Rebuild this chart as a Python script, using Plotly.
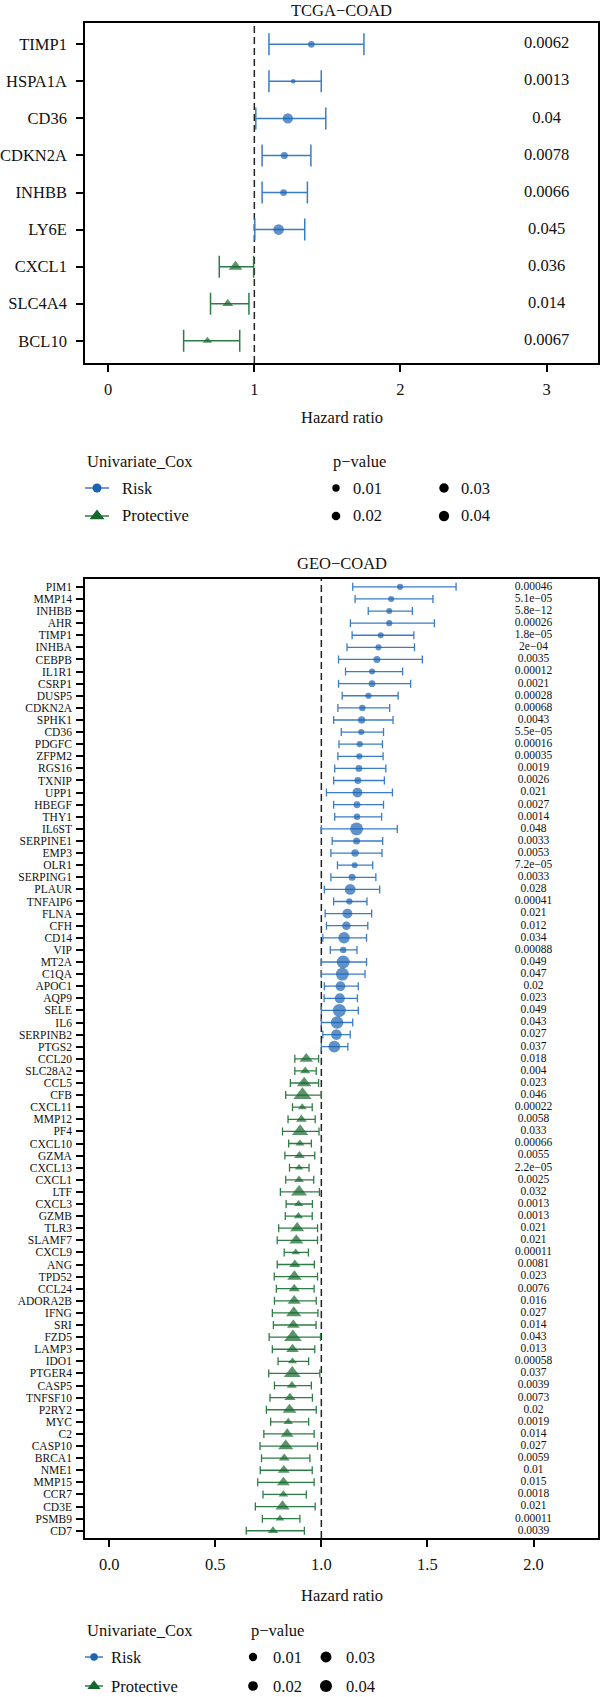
import plotly.graph_objects as go
import numpy as np

W, H = 600, 1697
FONT = "Liberation Serif"
BLUE = "#1C63B0"
BLUE_BAR = "#3A7DC6"
GREEN = "#15672C"
GREEN_BAR = "#2E7D46"
INK = "#111111"

# ---------------- TCGA-COAD ----------------
tcga_genes = ["TIMP1", "HSPA1A", "CD36", "CDKN2A", "INHBB", "LY6E", "CXCL1", "SLC4A4", "BCL10"]
tcga_hr = [1.39, 1.266, 1.229, 1.205, 1.20, 1.166, 0.871, 0.818, 0.679]
tcga_low = [1.10, 1.10, 1.01, 1.053, 1.053, 1.003, 0.76, 0.70, 0.516]
tcga_high = [1.75, 1.458, 1.489, 1.387, 1.363, 1.345, 0.995, 0.963, 0.90]
tcga_p = ["0.0062", "0.0013", "0.04", "0.0078", "0.0066", "0.045", "0.036", "0.014", "0.0067"]
tcga_group = ["Risk"] * 6 + ["Protective"] * 3

# ---------------- GEO-COAD ----------------
geo_genes = ["PIM1", "MMP14", "INHBB", "AHR", "TIMP1", "INHBA", "CEBPB", "IL1R1", "CSRP1", "DUSP5",
             "CDKN2A", "SPHK1", "CD36", "PDGFC", "ZFPM2", "RGS16", "TXNIP", "UPP1", "HBEGF", "THY1",
             "IL6ST", "SERPINE1", "EMP3", "OLR1", "SERPING1", "PLAUR", "TNFAIP6", "FLNA", "CFH", "CD14",
             "VIP", "MT2A", "C1QA", "APOC1", "AQP9", "SELE", "IL6", "SERPINB2", "PTGS2",
             "CCL20", "SLC28A2", "CCL5", "CFB", "CXCL11", "MMP12", "PF4", "CXCL10", "GZMA", "CXCL13",
             "CXCL1", "LTF", "CXCL3", "GZMB", "TLR3", "SLAMF7", "CXCL9", "ANG", "TPD52", "CCL24",
             "ADORA2B", "IFNG", "SRI", "FZD5", "LAMP3", "IDO1", "PTGER4", "CASP5", "TNFSF10", "P2RY2",
             "MYC", "C2", "CASP10", "BRCA1", "NME1", "MMP15", "CCR7", "CD3E", "PSMB9", "CD7"]
geo_hr = [1.371, 1.329, 1.320, 1.320, 1.280, 1.269, 1.262, 1.239, 1.239, 1.222,
          1.193, 1.190, 1.188, 1.181, 1.179, 1.177, 1.172, 1.170, 1.168, 1.168,
          1.166, 1.166, 1.159, 1.157, 1.145, 1.136, 1.132, 1.123, 1.118, 1.107,
          1.103, 1.103, 1.099, 1.090, 1.087, 1.085, 1.074, 1.071, 1.061,
          0.929, 0.924, 0.919, 0.911, 0.910, 0.906, 0.900, 0.899, 0.897, 0.895,
          0.895, 0.895, 0.893, 0.892, 0.886, 0.882, 0.879, 0.875, 0.873, 0.872,
          0.872, 0.870, 0.868, 0.866, 0.864, 0.864, 0.863, 0.861, 0.852, 0.850,
          0.844, 0.839, 0.832, 0.825, 0.823, 0.821, 0.821, 0.817, 0.805, 0.772]
geo_low = [1.148, 1.159, 1.221, 1.137, 1.145, 1.121, 1.081, 1.114, 1.081, 1.098,
           1.078, 1.058, 1.094, 1.083, 1.078, 1.063, 1.058, 1.024, 1.058, 1.063,
           1.000, 1.051, 1.045, 1.076, 1.045, 1.014, 1.058, 1.018, 1.024, 1.007,
           1.042, 1.000, 1.000, 1.014, 1.013, 1.000, 1.000, 1.007, 1.000,
           0.875, 0.875, 0.854, 0.832, 0.864, 0.843, 0.817, 0.846, 0.828, 0.850,
           0.832, 0.807, 0.834, 0.830, 0.799, 0.792, 0.825, 0.792, 0.778, 0.788,
           0.779, 0.769, 0.774, 0.754, 0.769, 0.796, 0.752, 0.779, 0.758, 0.741,
           0.761, 0.729, 0.711, 0.718, 0.712, 0.700, 0.725, 0.689, 0.722, 0.646]
geo_high = [1.635, 1.526, 1.429, 1.533, 1.436, 1.439, 1.476, 1.383, 1.421, 1.362,
            1.322, 1.338, 1.293, 1.288, 1.291, 1.304, 1.297, 1.335, 1.293, 1.284,
            1.358, 1.289, 1.286, 1.242, 1.257, 1.275, 1.215, 1.237, 1.219, 1.213,
            1.168, 1.213, 1.206, 1.174, 1.170, 1.174, 1.148, 1.136, 1.125,
            0.987, 0.976, 0.987, 1.000, 0.957, 0.971, 0.989, 0.953, 0.969, 0.942,
            0.964, 0.991, 0.958, 0.957, 0.982, 0.982, 0.939, 0.967, 0.982, 0.966,
            0.976, 0.984, 0.975, 0.996, 0.969, 0.940, 0.993, 0.953, 0.958, 0.976,
            0.940, 0.966, 0.982, 0.946, 0.957, 0.966, 0.929, 0.971, 0.899, 0.920]
geo_p = ["0.00046", "5.1e−05", "5.8e−12", "0.00026", "1.8e−05", "2e−04", "0.0035", "0.00012", "0.0021", "0.00028",
         "0.00068", "0.0043", "5.5e−05", "0.00016", "0.00035", "0.0019", "0.0026", "0.021", "0.0027", "0.0014",
         "0.048", "0.0033", "0.0053", "7.2e−05", "0.0033", "0.028", "0.00041", "0.021", "0.012", "0.034",
         "0.00088", "0.049", "0.047", "0.02", "0.023", "0.049", "0.043", "0.027", "0.037",
         "0.018", "0.004", "0.023", "0.046", "0.00022", "0.0058", "0.033", "0.00066", "0.0055", "2.2e−05",
         "0.0025", "0.032", "0.0013", "0.0013", "0.021", "0.021", "0.00011", "0.0081", "0.023", "0.0076",
         "0.016", "0.027", "0.014", "0.043", "0.013", "0.00058", "0.037", "0.0039", "0.0073", "0.02",
         "0.0019", "0.014", "0.027", "0.0059", "0.01", "0.015", "0.0018", "0.021", "0.00011", "0.0039"]
geo_group = ["Risk"] * 39 + ["Protective"] * 40

legend_p = [0.01, 0.02, 0.03, 0.04]
legend_p_labels = ["0.01", "0.02", "0.03", "0.04"]


def pnum(s):
    return float(s.replace("−", "-"))


tp = np.array([pnum(s) for s in tcga_p])
gp = np.array([pnum(s) for s in geo_p])


def tcga_size(p):
    p = np.asarray(p, dtype=float)
    r = np.clip((p - tp.min()) / (tp.max() - tp.min()), 0, 1)
    return 4.8 + 5.8 * np.sqrt(r)


def geo_size(p):
    p = np.asarray(p, dtype=float)
    r = np.clip(p / gp.max(), 0, 1)
    return 6.0 + 7.0 * r ** 0.7


def px(x):
    return x / W


def py(y):
    return 1 - y / H


fig = go.Figure()


def add_panel(genes, hr, low, high, pstr, group, sizefun, xa, ya, bw, capw, textx, tsize, ktri):
    hr = np.array(hr); low = np.array(low); high = np.array(high)
    pv = np.array([pnum(s) for s in pstr])
    g = np.array(group)
    genes = np.array(genes)
    for name, col, bcol, sym, k in [("Risk", BLUE, BLUE_BAR, "circle", 1.0),
                                    ("Protective", GREEN, GREEN_BAR, "triangle-up", ktri)]:
        m = g == name
        fig.add_trace(go.Scatter(
            x=hr[m], y=genes[m], mode="markers", xaxis=xa, yaxis=ya, showlegend=False,
            marker=dict(symbol=sym, color=col, size=sizefun(pv[m]) * k, line=dict(width=0)),
            error_x=dict(type="data", symmetric=False, array=high[m] - hr[m], arrayminus=hr[m] - low[m],
                         color=bcol, thickness=bw, width=capw),
        ))
    fig.add_trace(go.Scatter(
        x=[textx] * len(genes), y=genes, mode="text", text=list(pstr), xaxis=xa, yaxis=ya,
        showlegend=False, textposition="middle center",
        textfont=dict(family=FONT, size=tsize, color=INK),
    ))


add_panel(tcga_genes, tcga_hr, tcga_low, tcga_high, tcga_p, tcga_group, tcga_size,
          "x", "y", 1.5, 11, 3.0, 16.5, 1.2)
add_panel(geo_genes, geo_hr, geo_low, geo_high, geo_p, geo_group, geo_size,
          "x2", "y2", 1.3, 4, 2.0, 11.5, 1.25)

# ---------------- legends (overlay axis in pixel units) ----------------
def leg_line(x0, x1, y, col):
    fig.add_trace(go.Scatter(x=[x0, x1], y=[y, y], mode="lines", xaxis="x3", yaxis="y3",
                             line=dict(color=col, width=1.5), showlegend=False, hoverinfo="skip"))


def leg_marker(x, y, sym, col, size):
    fig.add_trace(go.Scatter(x=[x], y=[y], mode="markers", xaxis="x3", yaxis="y3",
                             marker=dict(symbol=sym, color=col, size=size, line=dict(width=0)),
                             showlegend=False, hoverinfo="skip"))


annotations = []


def txt(x, y, s, size=16.5, anchor="left"):
    annotations.append(dict(x=px(x), y=py(y), xref="paper", yref="paper", text=s, showarrow=False,
                            xanchor=anchor, yanchor="middle", font=dict(family=FONT, size=size, color=INK)))


# top legend
txt(85, 461, "Univariate_Cox")
leg_line(85, 109, 488, BLUE_BAR); leg_marker(97, 488, "circle", BLUE, 9)
leg_line(85, 109, 516, GREEN_BAR); leg_marker(97, 516, "triangle-up", GREEN, 13)
txt(120, 488, "Risk"); txt(120, 516, "Protective")
txt(331, 461, "p−value")
for i, (p, lab) in enumerate(zip(legend_p, legend_p_labels)):
    cx = 336 if i < 2 else 444
    cy = 488 if i % 2 == 0 else 516
    leg_marker(cx, cy, "circle", "black", float(tcga_size(p)))
    txt(cx + 15, cy, lab)

# bottom legend
txt(85, 1630, "Univariate_Cox")
leg_line(85, 103, 1657, BLUE_BAR); leg_marker(94, 1657, "circle", BLUE, 7.5)
leg_line(85, 103, 1686, GREEN_BAR); leg_marker(94, 1686, "triangle-up", GREEN, 11.5)
txt(109, 1657, "Risk"); txt(109, 1686, "Protective")
txt(249, 1630, "p−value")
for i, (p, lab) in enumerate(zip(legend_p, legend_p_labels)):
    cx = 253 if i < 2 else 326
    cy = 1657 if i % 2 == 0 else 1686
    leg_marker(cx, cy, "circle", "black", float(geo_size(p)))
    txt(cx + 18, cy, lab)

# titles and axis titles
txt(342, 10, "TCGA−COAD", anchor="center")
txt(342, 417, "Hazard ratio", anchor="center")
txt(342, 563, "GEO−COAD", anchor="center")
txt(342, 1595, "Hazard ratio", anchor="center")

shapes = [
    dict(type="line", xref="x", yref="y domain", x0=1, x1=1, y0=0, y1=1,
         line=dict(color="#222222", width=1.5, dash="7px,4px"), layer="below"),
    dict(type="line", xref="x2", yref="y2 domain", x0=1, x1=1, y0=0, y1=1,
         line=dict(color="#222222", width=1.5, dash="7px,4px"), layer="below"),
]

axis_common = dict(showline=True, mirror=True, linecolor="black", linewidth=1.5, ticks="outside",
                   ticklen=7, tickwidth=1.5, tickcolor="black", showgrid=False, zeroline=False)

fig.update_layout(
    width=W, height=H, margin=dict(l=0, r=0, t=0, b=0),
    paper_bgcolor="white", plot_bgcolor="rgba(0,0,0,0)",
    font=dict(family=FONT, color=INK),
    showlegend=False,
    xaxis=dict(domain=[px(85), px(598)], range=[-0.159, 3.352], anchor="y",
               tickvals=[0, 1, 2, 3], ticktext=["0", "1", "2", "3"],
               tickfont=dict(family=FONT, size=16.5, color=INK), ticklabelstandoff=3, **axis_common),
    yaxis=dict(domain=[py(363), py(23)], type="category", categoryorder="array", categoryarray=tcga_genes,
               tickmode="array", tickvals=tcga_genes, ticktext=tcga_genes,
               range=[8.6, -0.575], anchor="x",
               tickfont=dict(family=FONT, size=16.5, color=INK), ticklabelstandoff=6, **axis_common),
    xaxis2=dict(domain=[px(85), px(598)], range=[-0.114, 2.304], anchor="y2",
                tickvals=[0, 0.5, 1, 1.5, 2], ticktext=["0.0", "0.5", "1.0", "1.5", "2.0"],
                tickfont=dict(family=FONT, size=16.5, color=INK), ticklabelstandoff=3, **axis_common),
    yaxis2=dict(domain=[py(1538), py(579)], type="category", categoryorder="array", categoryarray=geo_genes,
                tickmode="array", tickvals=geo_genes, ticktext=geo_genes,
                range=[78.6, -0.65], anchor="x2",
                tickfont=dict(family=FONT, size=11.5, color=INK), ticklabelstandoff=2, **axis_common),
    xaxis3=dict(domain=[0, 1], range=[0, W], visible=False, anchor="y3", fixedrange=True),
    yaxis3=dict(domain=[0, 1], range=[H, 0], visible=False, anchor="x3", fixedrange=True),
    annotations=annotations,
    shapes=shapes,
)

fig.write_html("out.html")
